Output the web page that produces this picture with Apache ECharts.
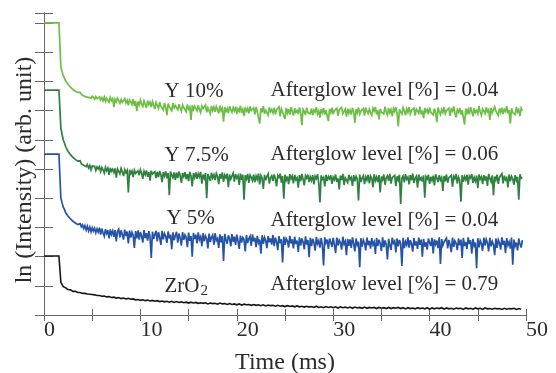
<!DOCTYPE html>
<html>
<head>
<meta charset="utf-8">
<script src="https://cdn.jsdelivr.net/npm/echarts@6/dist/echarts.min.js"></script>
<style>
  html, body { margin: 0; padding: 0; background: #fff; }
  #chart { width: 556px; height: 373px; }
</style>
</head>
<body>
<div id="chart"></div>
<script>
// Afterglow decay curves, ln(intensity) in arbitrary units vs time (ms)
// after the excitation step, samples start at 1.75 ms; values in hundredths
const stepEnd = 1.55;
const sampleStart = 1.75;
const sampleStep = [0.125, 0.125, 0.125, 0.25];

const names = ["Y 10%", "Y 7.5%", "Y 5%", "ZrO2"];
const colors = ["#6cbf45", "#2f8140", "#2553a7", "#151515"];
const lineWidth = [1.7, 1.7, 1.7, 1.6];
const flatLevel = [10.0, 7.7, 5.51, 2.02];

const y10 = [
  850, 833, 819, 811, 801, 796, 789, 786, 780, 778, 772, 773, 766, 768, 762, 764,
  762, 755, 759, 750, 756, 747, 753, 745, 751, 742, 749, 746, 739, 748, 741, 745,
  747, 736, 744, 733, 746, 731, 742, 737, 728, 745, 734, 741, 712, 739, 730, 743,
  740, 725, 738, 728, 722, 741, 726, 735, 718, 737, 730, 721, 739, 716, 733, 698,
  731, 719, 736, 722, 714, 733, 727, 709, 734, 721, 729, 712, 731, 718, 705, 728,
  722, 708, 729, 715, 720, 702, 726, 711, 684, 724, 713, 719, 700, 725, 709, 717,
  716, 703, 722, 708, 698, 719, 710, 714, 696, 721, 705, 712, 668, 718, 703, 715,
  711, 699, 718, 704, 693, 715, 707, 701, 719, 694, 710, 705, 689, 716, 700, 712,
  696, 714, 703, 690, 717, 699, 708, 662, 712, 697, 706, 691, 715, 702, 694, 710,
  699, 713, 688, 706, 697, 716, 692, 704, 681, 711, 698, 707, 690, 714, 700, 695,
  709, 686, 712, 697, 703, 655, 708, 694, 715, 689, 701, 706, 684, 711, 696, 704,
  692, 710, 687, 703, 698, 713, 680, 706, 695, 700, 671, 709, 691, 705, 686, 712,
  697, 683, 708, 694, 701, 688, 711, 692, 650, 704, 697, 685, 710, 693, 699, 689,
  707, 684, 702, 695, 712, 688, 699, 676, 705, 692, 709, 686, 701, 697, 664, 706,
  693, 710, 687, 700, 695, 708, 682, 703, 698, 711, 689, 694, 705, 679, 707, 691,
  702, 686, 709, 696, 658, 704, 692, 711, 688, 699, 695, 707, 683, 710, 697, 690,
  705, 693, 684, 708, 698, 712, 687, 701, 670, 706, 694, 700, 689, 713, 696, 685,
  709, 692, 703, 680, 707, 697, 711, 690, 646, 704, 695, 688, 710, 699, 684, 706,
  694, 712, 689, 701, 696, 708, 683, 705, 698, 691, 713, 687, 700, 674, 709, 695,
  703, 688, 711, 694, 699, 685, 707, 692, 660, 710, 697, 686, 704, 693, 712, 689,
  700, 695, 708, 682, 705, 698, 714, 690, 677, 703, 694, 709, 686, 701, 696, 652,
  707, 691, 704, 687, 712, 697, 680, 708, 693, 700, 689, 715, 695, 684, 706, 699,
  690, 711, 696, 703, 668, 709, 692, 686, 713, 698, 701, 683, 707, 694, 710, 688,
  704, 697, 715, 690, 702, 655, 708, 693, 699, 686, 712, 695, 703, 681, 709, 700
];

const y75 = [
  640, 618, 599, 589, 576, 570, 560, 558, 549, 548, 540, 541, 533, 535, 527, 529,
  528, 517, 523, 513, 519, 508, 515, 503, 512, 497, 510, 504, 509, 495, 507, 500,
  508, 491, 505, 497, 486, 506, 494, 503, 480, 504, 492, 499, 488, 502, 470, 500,
  499, 483, 502, 490, 476, 498, 487, 495, 420, 497, 484, 493, 472, 496, 485, 490,
  494, 478, 497, 486, 466, 492, 481, 495, 473, 489, 460, 494, 483, 477, 491, 469,
  490, 472, 493, 480, 455, 489, 476, 492, 468, 486, 410, 491, 479, 470, 488, 463,
  487, 469, 491, 477, 452, 486, 474, 489, 465, 483, 458, 490, 476, 440, 485, 471,
  488, 466, 484, 473, 490, 450, 481, 468, 486, 400, 483, 472, 459, 487, 469, 480,
  462, 485, 474, 448, 483, 467, 488, 456, 479, 470, 484, 438, 481, 465, 476, 486,
  457, 482, 469, 477, 445, 484, 463, 480, 395, 478, 466, 483, 452, 479, 471, 460,
  481, 455, 476, 464, 484, 447, 478, 468, 432, 480, 461, 475, 483, 450, 470, 477,
  459, 481, 467, 440, 478, 471, 484, 453, 476, 398, 480, 462, 474, 448, 482, 466,
  476, 451, 480, 463, 470, 436, 479, 458, 483, 465, 444, 477, 469, 481, 455, 473,
  461, 479, 447, 475, 467, 482, 452, 385, 478, 464, 471, 440, 480, 459, 474, 466,
  478, 449, 472, 463, 481, 456, 468, 430, 477, 462, 483, 445, 470, 476, 453, 480,
  464, 471, 442, 479, 458, 475, 466, 392, 481, 455, 469, 477, 448, 473, 462, 480,
  451, 476, 468, 438, 482, 460, 472, 455, 479, 420, 474, 463, 481, 446, 470, 477,
  459, 483, 450, 471, 466, 478, 441, 475, 462, 480, 380, 469, 476, 454, 482, 465,
  472, 447, 479, 461, 484, 452, 468, 475, 436, 481, 463, 470, 457, 478, 402, 474,
  466, 480, 449, 473, 460, 477, 444, 482, 468, 455, 479, 462, 471, 425, 476, 458,
  481, 453, 470, 464, 478, 439, 475, 467, 483, 450, 472, 461, 388, 479, 456, 474,
  463, 480, 446, 476, 469, 482, 452, 471, 458, 477, 434, 481, 465, 473, 448, 479,
  460, 475, 442, 483, 467, 456, 478, 410, 474, 462, 480, 449, 471, 466, 484, 451,
  477, 463, 470, 437, 481, 458, 475, 466, 446, 479, 461, 473, 395, 482, 468, 470
];

const y5 = [
  400, 384, 369, 361, 350, 346, 338, 336, 329, 328, 321, 323, 315, 317, 310, 313,
  313, 302, 309, 296, 306, 291, 304, 288, 301, 285, 299, 287, 297, 281, 295, 284,
  299, 275, 296, 281, 270, 294, 279, 290, 262, 293, 276, 288, 268, 291, 252, 287,
  294, 266, 290, 275, 258, 292, 270, 286, 245, 289, 265, 283, 272, 230, 287, 262,
  290, 258, 284, 270, 248, 291, 263, 280, 255, 287, 268, 195, 285, 260, 276, 288,
  252, 284, 266, 240, 288, 259, 279, 270, 247, 286, 262, 275, 225, 283, 256, 272,
  285, 248, 279, 263, 238, 284, 257, 274, 266, 232, 282, 254, 270, 200, 281, 260,
  275, 245, 283, 258, 268, 236, 280, 252, 271, 262, 228, 279, 250, 266, 274, 241,
  280, 255, 262, 230, 276, 249, 270, 185, 278, 258, 244, 273, 262, 235, 277, 251,
  268, 240, 275, 254, 226, 272, 248, 265, 258, 218, 274, 246, 262, 270, 237, 276,
  252, 264, 232, 271, 247, 258, 210, 273, 244, 266, 255, 229, 270, 249, 262, 241,
  274, 236, 265, 251, 222, 270, 246, 259, 180, 268, 240, 262, 254, 231, 271, 245,
  259, 228, 268, 243, 255, 216, 266, 238, 262, 250, 225, 269, 241, 257, 198, 264,
  236, 261, 248, 220, 267, 244, 255, 231, 263, 240, 170, 266, 247, 258, 226, 262,
  249, 233, 264, 241, 212, 265, 238, 256, 247, 224, 268, 243, 252, 205, 261, 237,
  259, 230, 266, 244, 218, 262, 240, 251, 164, 263, 234, 257, 246, 221, 265, 239,
  254, 227, 263, 241, 250, 209, 264, 236, 258, 245, 219, 266, 232, 255, 242, 190,
  261, 238, 223, 265, 246, 253, 214, 262, 235, 257, 244, 168, 264, 229, 251, 240,
  266, 231, 256, 243, 217, 263, 238, 252, 226, 265, 240, 258, 200, 261, 234, 249,
  224, 262, 247, 236, 264, 211, 259, 242, 255, 229, 266, 175, 260, 238, 250, 245,
  263, 228, 257, 241, 215, 265, 233, 254, 246, 222, 262, 239, 258, 195, 264, 236,
  250, 226, 266, 243, 256, 210, 261, 237, 248, 160, 263, 232, 255, 244, 220, 265,
  238, 259, 247, 218, 264, 235, 252, 241, 205, 262, 230, 257, 246, 224, 266, 240,
  254, 212, 263, 239, 250, 227, 265, 172, 258, 236, 248, 221, 262, 243, 231, 256
];

const zrO2 = [
  112, 97, 93, 87, 86, 81, 81, 77, 77, 74,
  74, 72, 71, 70, 69, 67, 67, 64, 65, 62,
  63, 60, 61, 58, 60, 56, 58, 55, 57, 54,
  55, 52, 53, 50, 52, 49, 51, 48, 50, 47,
  49, 46, 48, 45, 47, 44, 47, 43, 46, 43,
  45, 42, 44, 41, 44, 41, 43, 40, 42, 40,
  42, 38, 41, 39, 40, 37, 41, 38, 39, 36,
  39, 36, 38, 35, 38, 34, 37, 35, 36, 33,
  36, 33, 35, 32, 35, 31, 34, 32, 33, 30,
  33, 30, 32, 29, 32, 29, 31, 28, 31, 28,
  30, 27, 30, 27, 29, 26, 30, 26, 28, 25,
  29, 26, 28, 25, 28, 24, 28, 25, 27, 24,
  27, 23, 27, 24, 26, 23, 27, 23, 26, 24,
  26, 22, 26, 23, 25, 22, 26, 22, 25, 23,
  26, 22, 25, 21, 25, 22, 24, 21, 25, 22,
  24, 21, 25, 20, 24, 21, 24, 22, 25, 20,
  24, 21, 23, 20, 24, 22, 23, 19, 24, 21,
  23, 20, 24, 21, 23, 19, 24, 21, 22, 20,
  23, 21, 22, 19, 23, 20, 22, 21, 23, 19,
  22, 20
];

const afterglow = ["0.04", "0.06", "0.04", "0.79"];
// label anchors in data units [time, level]
const nameAnchor = [[12.5, 7.64], [12.5, 5.45], [12.7, 3.32], [12.5, 0.96]];
const glowAnchor = [[23.5, 7.67], [23.5, 5.51], [23.5, 3.25], [23.5, 1.03]];

const xTicks = { min: 0, max: 50, interval: 10 };
const yRange = { min: 0, max: 10.34, interval: 1 };

const font = "'Liberation Serif', 'Times New Roman', serif";
const axisColor = "#666";
const textColor = "#2b2b2b";

const curves = [y10, y75, y5, zrO2];

function buildSeries(vals, i) {
  const pts = [[0, flatLevel[i]], [stepEnd, flatLevel[i]]];
  vals.forEach((v, k) => {
    pts.push([sampleStart + sampleStep[i] * k, v / 100]);
  });
  return {
    name: names[i],
    type: "line",
    data: pts,
    showSymbol: false,
    symbol: "none",
    lineStyle: { color: colors[i], width: lineWidth[i], join: "miter", miterLimit: 4 },
    itemStyle: { color: colors[i] },
    silent: true,
    z: 2 + i,
  };
}

const chart = echarts.init(document.getElementById("chart"), null, { renderer: "canvas" });

const xBase = {
  type: "value",
  min: xTicks.min,
  max: xTicks.max,
  interval: xTicks.interval,
  axisLine: { show: true, lineStyle: { color: axisColor, width: 1 } },
  axisTick: { show: true, inside: true, length: 6, lineStyle: { color: axisColor } },
  minorTick: { show: true, splitNumber: 2, length: 6, lineStyle: { color: axisColor } },
  splitLine: { show: false },
  minorSplitLine: { show: false },
};

const yBase = {
  type: "value",
  min: yRange.min,
  max: yRange.max,
  interval: yRange.interval,
  axisLine: { show: true, lineStyle: { color: axisColor, width: 1 } },
  axisTick: { show: true, inside: true, length: 9, lineStyle: { color: axisColor } },
  axisLabel: { show: false },
  splitLine: { show: false },
};

chart.setOption({
  animation: false,
  backgroundColor: "#fff",
  grid: { left: 44, right: 30, top: 13, bottom: 58, containLabel: false, outerBoundsMode: "none" },
  xAxis: [
    Object.assign({}, xBase, {
      position: "bottom",
      name: "Time (ms)",
      nameLocation: "middle",
      nameGap: 36,
      nameTextStyle: { fontFamily: font, fontSize: 24, color: textColor },
      axisLabel: {
        show: true,
        align: "left",
        margin: 4,
        fontFamily: font,
        fontSize: 22,
        color: textColor,
        showMinLabel: true,
        showMaxLabel: true,
      },
    }),
    Object.assign({}, xBase, { position: "top", axisLabel: { show: false } }),
  ],
  yAxis: [
    Object.assign({}, yBase, {
      position: "left",
      name: "ln (Intensity) (arb. unit)",
      nameLocation: "middle",
      nameGap: 7,
      nameTextStyle: { fontFamily: font, fontSize: 24, color: textColor, padding: [0, 12, 0, 0] },
    }),
    Object.assign({}, yBase, { position: "right" }),
  ],
  series: curves.map(buildSeries),
});

// annotation texts, placed from data anchors
const textStyleBase = { fontFamily: font, fontSize: 21, fill: textColor, verticalAlign: "middle", align: "left" };
const graphics = [];
names.forEach((n, i) => {
  const p = chart.convertToPixel({ xAxisIndex: 0, yAxisIndex: 0 }, nameAnchor[i]);
  const g = chart.convertToPixel({ xAxisIndex: 0, yAxisIndex: 0 }, glowAnchor[i]);
  if (n === "ZrO2") {
    graphics.push({
      type: "text", x: p[0], y: p[1], z: 10,
      style: Object.assign({}, textStyleBase, {
        text: "{a|ZrO}{b|2}",
        rich: {
          a: { fontFamily: font, fontSize: 21, fill: textColor },
          b: { fontFamily: font, fontSize: 15, fill: textColor, padding: [8, 0, 0, 1] },
        },
      }),
    });
  } else {
    graphics.push({ type: "text", x: p[0], y: p[1], z: 10, style: Object.assign({}, textStyleBase, { text: n }) });
  }
  graphics.push({
    type: "text", x: g[0], y: g[1], z: 10,
    style: Object.assign({}, textStyleBase, { text: "Afterglow level [%] = " + afterglow[i] }),
  });
});
chart.setOption({ graphic: graphics });
</script>
</body>
</html>
